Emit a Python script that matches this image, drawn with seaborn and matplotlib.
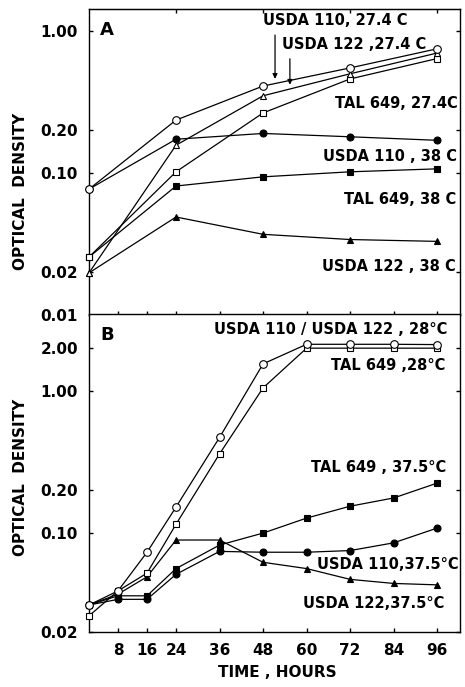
import matplotlib
matplotlib.use("Agg")
import matplotlib.pyplot as plt
from matplotlib.ticker import NullLocator
import seaborn as sns
import pandas as pd

# panel A : 27.4 C vs 38 C
hours_a = [0, 24, 48, 72, 96]
a_usda110_274 = [0.077, 0.236, 0.41, 0.55, 0.75]
a_usda122_274 = [0.0198, 0.157, 0.35, 0.50, 0.70]
a_tal649_274 = [0.0256, 0.102, 0.265, 0.46, 0.64]
a_usda110_38 = [0.077, 0.173, 0.19, 0.18, 0.17]
a_tal649_38 = [0.0256, 0.081, 0.094, 0.102, 0.107]
a_usda122_38 = [0.0198, 0.049, 0.037, 0.034, 0.033]

# panel B : 28 C vs 37.5 C
hours_b = [0, 8, 16, 24, 36, 48, 60, 72, 84, 96]
b_usda110_122_28 = [0.031, 0.039, 0.073, 0.152, 0.47, 1.55, 2.13, 2.13, 2.13, 2.12]
b_tal649_28 = [0.026, 0.039, 0.052, 0.115, 0.36, 1.05, 2.0, 2.0, 2.0, 2.0]
b_tal649_375 = [0.031, 0.036, 0.036, 0.056, 0.082, 0.0996, 0.127, 0.154, 0.176, 0.224]
b_usda110_375 = [0.031, 0.034, 0.034, 0.051, 0.074, 0.073, 0.073, 0.075, 0.085, 0.108]
b_usda122_375 = [0.031, 0.037, 0.049, 0.089, 0.089, 0.062, 0.056, 0.047, 0.044, 0.043]

xticks_b = [8, 16, 24, 36, 48, 60, 72, 84, 96]
yticks_a = [0.01, 0.02, 0.10, 0.20, 1.00]
yticks_b = [0.02, 0.10, 0.20, 1.00, 2.00]

sns.set_style("white")
plt.rcParams['font.family'] = ['DejaVu Sans']
plt.rcParams['font.weight'] = 'bold'
plt.rcParams['text.color'] = 'black'
plt.rcParams['axes.labelcolor'] = 'black'
plt.rcParams['xtick.color'] = 'black'
plt.rcParams['ytick.color'] = 'black'

fig = plt.figure(figsize=(4.65, 6.87), dpi=100)
axA = fig.add_axes([0.1914, 0.5415, 0.7978, 0.4454])
axB = fig.add_axes([0.1914, 0.0800, 0.7978, 0.4629])

def curve(ax, x, y, marker, filled, ms):
    sns.lineplot(x=x, y=y, ax=ax, color='black', lw=0.9, marker=marker,
                 markersize=ms, markeredgecolor='black', markeredgewidth=0.8,
                 markerfacecolor='black' if filled else 'white', errorbar=None,
                 clip_on=False, zorder=3)

#panel A
curve(axA, hours_a, a_usda110_38, 'o', True, 5)
curve(axA, hours_a, a_tal649_38, 's', True, 4.5)
curve(axA, hours_a, a_usda122_38, '^', True, 4)
curve(axA, hours_a, a_tal649_274, 's', False, 4.5)
curve(axA, hours_a, a_usda122_274, '^', False, 4)
curve(axA, hours_a, a_usda110_274, 'o', False, 5.5)

#panel B
curve(axB, hours_b, b_usda122_375, '^', True, 4)
curve(axB, hours_b, b_usda110_375, 'o', True, 5)
curve(axB, hours_b, b_tal649_375, 's', True, 4.5)
curve(axB, hours_b, b_tal649_28, 's', False, 4.5)
curve(axB, hours_b, b_usda110_122_28, 'o', False, 5.5)

for ax, yt, ylim in [(axA, yticks_a, (0.01, 1.43)), (axB, yticks_b, (0.02, 3.48))]:
    ax.set_yscale('log')
    ax.set_ylim(*ylim)
    ax.set_xlim(0, 102.3)
    ax.set_yticks(yt)
    ax.set_yticklabels(["%.2f" % v for v in yt])
    ax.yaxis.set_minor_locator(NullLocator())
    ax.set_xticks(xticks_b)
    for s in ax.spines.values():
        s.set_color('black')
        s.set_linewidth(1.0)
    ax.tick_params(axis='y', direction='in', length=3, width=1, left=True,
                   right=True, labelsize=11, pad=8)
    ax.tick_params(axis='x', direction='in', length=3, width=1, bottom=True)
    ax.set_ylabel('OPTICAL  DENSITY', fontsize=11, fontweight='bold')

axA.tick_params(axis='x', labelbottom=False)
axA.yaxis.set_label_coords(-0.165, 0.405)
axB.yaxis.set_label_coords(-0.165, 0.487)
top = axA.secondary_xaxis('top')
top.set_xticks([24, 48, 72, 96])
top.tick_params(direction='in', length=3, width=1, labeltop=False)

axB.tick_params(axis='x', labelsize=11, pad=8)
axB.set_xticklabels([str(t) for t in xticks_b])
axB.set_xlabel('TIME , HOURS', fontsize=11, fontweight='bold')
axB.xaxis.set_label_coords(0.507, -0.105)

#panel letters
axA.text(0.03, 0.93, 'A', transform=axA.transAxes, fontsize=13, fontweight='bold', va='center')
axB.text(0.03, 0.934, 'B', transform=axB.transAxes, fontsize=13, fontweight='bold', va='center')

lab = dict(fontsize=10.5, fontweight='bold', va='center')
axA.text(67.9, 1.18, 'USDA 110, 27.4 C', ha='center', **lab)
axA.text(73.1, 0.81, 'USDA 122 ,27.4 C', ha='center', **lab)
axA.annotate('', xy=(51.3, 0.44), xytext=(51.3, 0.98),
             arrowprops=dict(arrowstyle='-|>', color='black', lw=0.9, mutation_scale=7))
axA.annotate('', xy=(55.4, 0.40), xytext=(55.4, 0.667),
             arrowprops=dict(arrowstyle='-|>', color='black', lw=0.9, mutation_scale=7))
axA.text(101.8, 0.311, 'TAL 649, 27.4C', ha='right', **lab)
axA.text(101.5, 0.1297, 'USDA 110 , 38 C', ha='right', **lab)
axA.text(101.2, 0.0646, 'TAL 649, 38 C', ha='right', **lab)
axA.text(101.2, 0.0221, 'USDA 122 , 38 C', ha='right', **lab)

axB.text(98.8, 2.72, 'USDA 110 / USDA 122 , 28°C', ha='right', **lab)
axB.text(98.2, 1.52, 'TAL 649 ,28°C', ha='right', **lab)
axB.text(98.5, 0.29, 'TAL 649 , 37.5°C', ha='right', **lab)
axB.text(102.0, 0.060, 'USDA 110,37.5°C', ha='right', **lab)
axB.text(98.0, 0.032, 'USDA 122,37.5°C', ha='right', **lab)

for ax in (axA, axB):
    leg = ax.get_legend()
    if leg is not None:
        leg.remove()

fig.savefig('out.png', dpi=100)
